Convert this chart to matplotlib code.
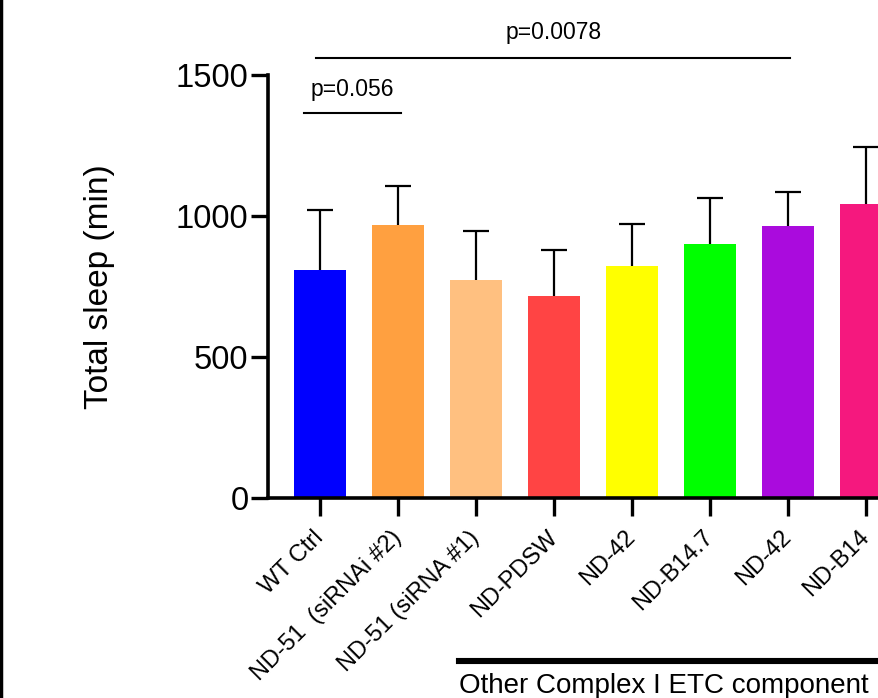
import matplotlib
matplotlib.use('Agg')
import matplotlib.pyplot as plt
from matplotlib.lines import Line2D

plt.rcParams['font.family'] = ['Liberation Sans', 'DejaVu Sans']

labels = ['WT Ctrl', 'ND-51  (siRNAi #2)', 'ND-51 (siRNA #1)', 'ND-PDSW',
          'ND-42', 'ND-B14.7', 'ND-42', 'ND-B14']
means = [808, 968, 773, 716, 823, 901, 965, 1043]
errs = [213, 138, 174, 163, 149, 163, 120, 202]
colors = ['#0000FF', '#FFA040', '#FFC080', '#FF4444',
          '#FFFF00', '#00FF00', '#AA0BDD', '#F5187E']

fig = plt.figure(figsize=(8.79, 6.98), dpi=100)
ax = fig.add_axes([268/879, 1-498/698, 1-268/879, (498-75)/698])

x = list(range(len(labels)))
ax.bar(x, means, width=0.67, color=colors, zorder=2)
eb = ax.errorbar(x, means, yerr=[[0]*len(errs), errs], fmt='none', ecolor='black',
                 elinewidth=1.6, capsize=9.4, capthick=1.6, zorder=3)
# only the upper cap
eb[1][0].set_visible(False)

ax.set_xlim(-0.667, 7.167)
ax.set_ylim(0, 1500)
ax.set_yticks([0, 500, 1000, 1500])
ax.set_xticks(x)
ax.set_xticklabels(labels, rotation=45, ha='right', va='center',
                   rotation_mode='anchor', fontsize=17)
ax.tick_params(axis='y', labelsize=23.5, length=12, width=2.4, pad=2)
ax.tick_params(axis='x', length=13, width=2.4, pad=13)
for s in ['top', 'right']:
    ax.spines[s].set_visible(False)
for s in ['left', 'bottom']:
    ax.spines[s].set_linewidth(2.6)
ax.set_ylabel('Total sleep (min)', fontsize=24, labelpad=44)

# significance brackets
ax.plot([-0.2, 1.04], [1365, 1365], color='black', lw=1.5, clip_on=False)
ax.text(0.42, 1425, 'p=0.056', ha='center', va='baseline', fontsize=16.5)
ax.plot([-0.05, 6.03], [1560, 1560], color='black', lw=1.5, clip_on=False)
ax.text(2.99, 1628, 'p=0.0078', ha='center', va='baseline', fontsize=16.5)

# group line at bottom
fig.add_artist(Line2D([459/879, 1.0], [1-661/698, 1-661/698], color='black', lw=4.4))
fig.text(459/879, 1-693/698, 'Other Complex I ETC component', ha='left',
         va='baseline', fontsize=20)

# frame edge on the left
fig.add_artist(Line2D([0.0015, 0.0015], [0, 1], color='black', lw=2.5))

fig.savefig('out.png', dpi=100)
